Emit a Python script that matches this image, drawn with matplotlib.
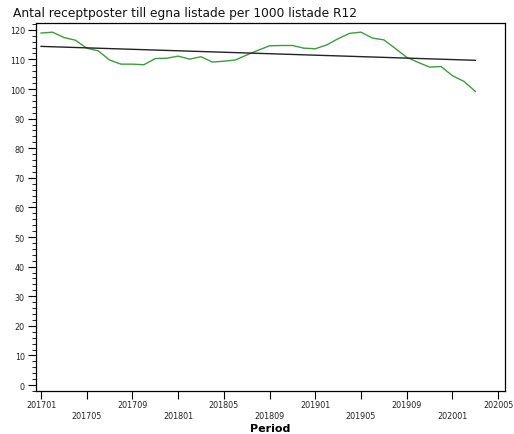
import matplotlib
matplotlib.use('Agg')
import matplotlib.pyplot as plt
from matplotlib.ticker import MultipleLocator, FixedLocator

# monthly periods 201701 .. 202003
periods = [f"{y}{m:02d}" for y in (2017, 2018, 2019, 2020) for m in range(1, 13)][:39]

values = [118.9, 119.2, 117.4, 116.5, 113.8, 112.9, 109.8, 108.4, 108.4, 108.2,
          110.3, 110.4, 111.1, 110.1, 110.9, 109.1, 109.4, 109.8, 111.5, 113.1,
          114.6, 114.7, 114.7, 113.8, 113.6, 114.9, 117.0, 118.8, 119.2, 117.2,
          116.6, 113.7, 110.7, 109.0, 107.4, 107.6, 104.5, 102.6, 99.2]

# trend line end points (first and last period)
trend_values = [114.4, 109.7]

tick_labels = ["201701", "201705", "201709", "201801", "201805", "201809",
               "201901", "201905", "201909", "202001", "202005"]

title = "Antal receptposter till egna listade per 1000 listade R12"

fig = plt.figure(figsize=(5.14, 4.35), dpi=100)
ax = fig.add_axes([36 / 514, 43 / 435, 469 / 514, 368 / 435])

x = list(range(len(values)))
ax.plot(x, values, color='#3a9e3a', linewidth=1.0)
ax.plot([0, len(values) - 1], trend_values, color='#222222', linewidth=1.0)

ax.set_xlim(-0.44, 40.6)
ax.set_ylim(-2.0, 122.3)

# y axis
ax.yaxis.set_major_locator(MultipleLocator(10))
ax.yaxis.set_minor_locator(MultipleLocator(2))
ax.tick_params(axis='y', which='major', length=6, width=0.8, labelsize=5.8,
               labelcolor='#222222', pad=2)
ax.tick_params(axis='y', which='minor', length=3, width=0.6)

# x axis, staggered labels
tick_pos = [4 * i for i in range(len(tick_labels))]
ax.xaxis.set_major_locator(FixedLocator(tick_pos[::2]))
ax.xaxis.set_minor_locator(FixedLocator(tick_pos[1::2]))
ax.set_xticklabels(tick_labels[::2])
ax.set_xticklabels(tick_labels[1::2], minor=True)
ax.tick_params(axis='x', which='major', length=6, width=0.8, labelsize=5.8,
               labelcolor='#222222', pad=0.5)
ax.tick_params(axis='x', which='minor', length=6, width=0.8, labelsize=5.8,
               labelcolor='#222222', pad=8.5)

for s in ax.spines.values():
    s.set_linewidth(0.9)

fig.text(270 / 514, 1 - 429 / 435, "Period", fontsize=8, fontweight='bold',
         ha='center', va='center')
fig.text(13 / 514, 1 - 13 / 435, title, fontsize=8.8, va='center', ha='left',
         color='#111111')

fig.savefig("out.png", dpi=100)
